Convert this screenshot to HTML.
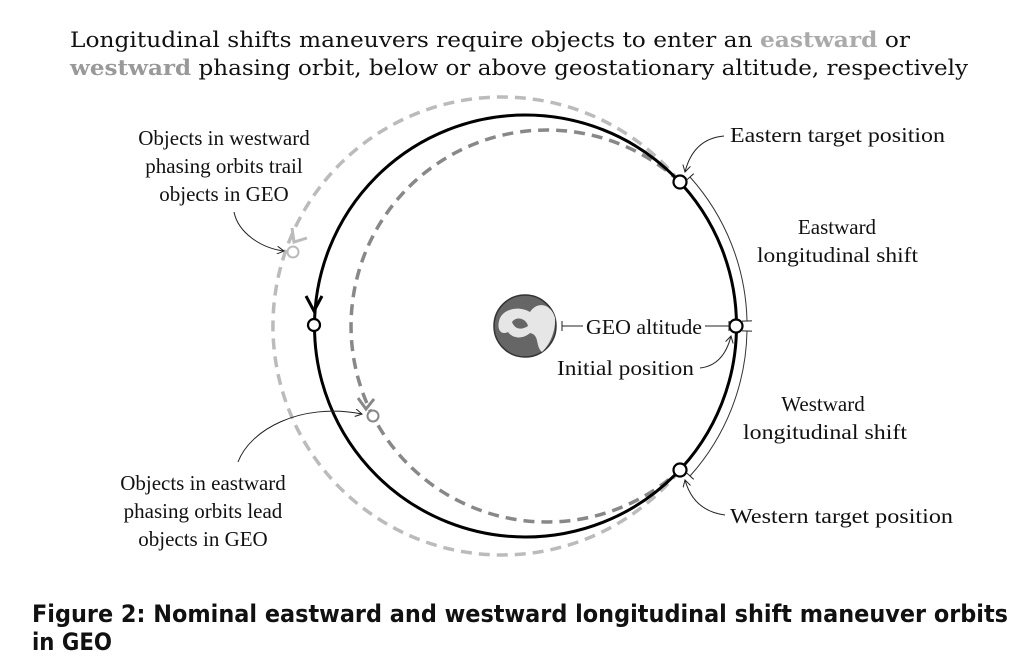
<!DOCTYPE html>
<html><head><meta charset="utf-8"><style>
html,body{margin:0;padding:0;background:#fff;}
svg{display:block;}
.s{font-family:"Liberation Serif",serif;font-size:21px;fill:#111;}
</style></head><body>
<svg width="1032" height="672" viewBox="0 0 1032 672" xmlns="http://www.w3.org/2000/svg">
<defs>
<marker id="ah" markerWidth="8" markerHeight="8" refX="7" refY="4" orient="auto" markerUnits="userSpaceOnUse">
<path d="M0,0 L7,4 L0,8" fill="none" stroke="#222" stroke-width="1"/></marker>
<marker id="bar" markerWidth="2" markerHeight="10" refX="1" refY="5" orient="auto" markerUnits="userSpaceOnUse">
<path d="M1,0 L1,10" stroke="#222" stroke-width="1"/></marker>
</defs>
<text x="70" y="47" font-family="DejaVu Serif,serif" font-size="21" fill="#111" textLength="840" lengthAdjust="spacingAndGlyphs">Longitudinal shifts maneuvers require objects to enter an <tspan fill="#aaa" font-weight="bold">eastward</tspan> or</text>
<text x="70" y="75" font-family="DejaVu Serif,serif" font-size="21" fill="#111" textLength="898" lengthAdjust="spacingAndGlyphs"><tspan fill="#999" font-weight="bold">westward</tspan> phasing orbit, below or above geostationary altitude, respectively</text>

<path d="M680 182 A229 229 0 1 0 680 470" fill="none" stroke="#bbb" stroke-width="3.5" stroke-dasharray="11 7"/>
<path d="M680 182 A196 196 0 1 0 680 470" fill="none" stroke="#888" stroke-width="3.5" stroke-dasharray="11 7"/>
<circle cx="525.5" cy="326" r="211" fill="none" stroke="#000" stroke-width="3"/>
<path d="M306 296 L314 311 L322 296" fill="none" stroke="#000" stroke-width="3"/>
<path d="M292 228 L294 242 L307 238" fill="none" stroke="#bbb" stroke-width="3"/>
<path d="M358 398 L366 409 L374 399" fill="none" stroke="#888" stroke-width="3"/>
<circle cx="293" cy="252" r="5.5" fill="#fff" stroke="#bbb" stroke-width="2"/>
<circle cx="373" cy="416" r="5.5" fill="#fff" stroke="#888" stroke-width="2"/>
<circle cx="314" cy="325" r="6" fill="#fff" stroke="#000" stroke-width="2.2"/>
<circle cx="736" cy="326" r="6.5" fill="#fff" stroke="#000" stroke-width="2.2"/>
<circle cx="680" cy="182" r="6.5" fill="#fff" stroke="#000" stroke-width="2.2"/>
<circle cx="680" cy="470" r="6.5" fill="#fff" stroke="#000" stroke-width="2.2"/>
<path d="M690 177 A223 223 0 0 1 747 321" fill="none" stroke="#333" stroke-width="1" marker-start="url(#bar)" marker-end="url(#bar)"/>
<path d="M747 331 A223 223 0 0 1 690 476" fill="none" stroke="#333" stroke-width="1" marker-start="url(#bar)" marker-end="url(#bar)"/>
<circle cx="525" cy="326" r="31" fill="#666" stroke="#333" stroke-width="1.5"/>
<path d="M500 318 C505 308 520 306 530 312 C538 300 552 305 555 318 C556 330 550 345 542 352 C535 346 540 335 530 333 C522 340 512 338 508 332 C500 336 496 328 500 318Z" fill="#e6e6e6"/>
<path d="M512 322 C516 316 526 318 528 326 C522 330 515 330 512 322Z" fill="#666"/>
<path d="M562 326 L583 326" stroke="#222" stroke-width="1" marker-start="url(#bar)"/>
<path d="M705 326 L729 326" stroke="#222" stroke-width="1" marker-end="url(#bar)"/>
<text class="s" x="586" y="334" textLength="116" lengthAdjust="spacingAndGlyphs">GEO altitude</text>
<text class="s" x="557" y="375" textLength="137" lengthAdjust="spacingAndGlyphs">Initial position</text>
<path d="M700 368 C718 366 727 352 731 336" fill="none" stroke="#222" stroke-width="1" marker-end="url(#ah)"/>
<text class="s" x="730" y="142" textLength="215" lengthAdjust="spacingAndGlyphs">Eastern target position</text>
<path d="M724 136 C702 138 690 152 685 172" fill="none" stroke="#222" stroke-width="1" marker-end="url(#ah)"/>
<text class="s" x="837" y="234" text-anchor="middle">Eastward</text>
<text class="s" x="757" y="262" textLength="161" lengthAdjust="spacingAndGlyphs">longitudinal shift</text>
<text class="s" x="823" y="411" text-anchor="middle">Westward</text>
<text class="s" x="743" y="439" textLength="164" lengthAdjust="spacingAndGlyphs">longitudinal shift</text>
<text class="s" x="730" y="523" textLength="223" lengthAdjust="spacingAndGlyphs">Western target position</text>
<path d="M725 515 C702 512 690 498 685 480" fill="none" stroke="#222" stroke-width="1" marker-end="url(#ah)"/>
<text class="s" x="224" y="145" text-anchor="middle">Objects in westward</text>
<text class="s" x="224" y="173" text-anchor="middle">phasing orbits trail</text>
<text class="s" x="224" y="201" text-anchor="middle">objects in GEO</text>
<path d="M234 212 C238 232 260 248 284 251" fill="none" stroke="#222" stroke-width="1" marker-end="url(#ah)"/>
<text class="s" x="203" y="490" text-anchor="middle">Objects in eastward</text>
<text class="s" x="203" y="518" text-anchor="middle">phasing orbits lead</text>
<text class="s" x="203" y="546" text-anchor="middle">objects in GEO</text>
<path d="M238 462 C250 430 300 402 362 414" fill="none" stroke="#222" stroke-width="1" marker-end="url(#ah)"/>
<text x="32" y="622" font-family="DejaVu Sans,sans-serif" font-weight="bold" font-size="24" fill="#111" textLength="976" lengthAdjust="spacingAndGlyphs">Figure 2: Nominal eastward and westward longitudinal shift maneuver orbits</text>
<text x="32" y="650" font-family="DejaVu Sans,sans-serif" font-weight="bold" font-size="24" fill="#111" textLength="80" lengthAdjust="spacingAndGlyphs">in GEO</text>
</svg>
</body></html>
